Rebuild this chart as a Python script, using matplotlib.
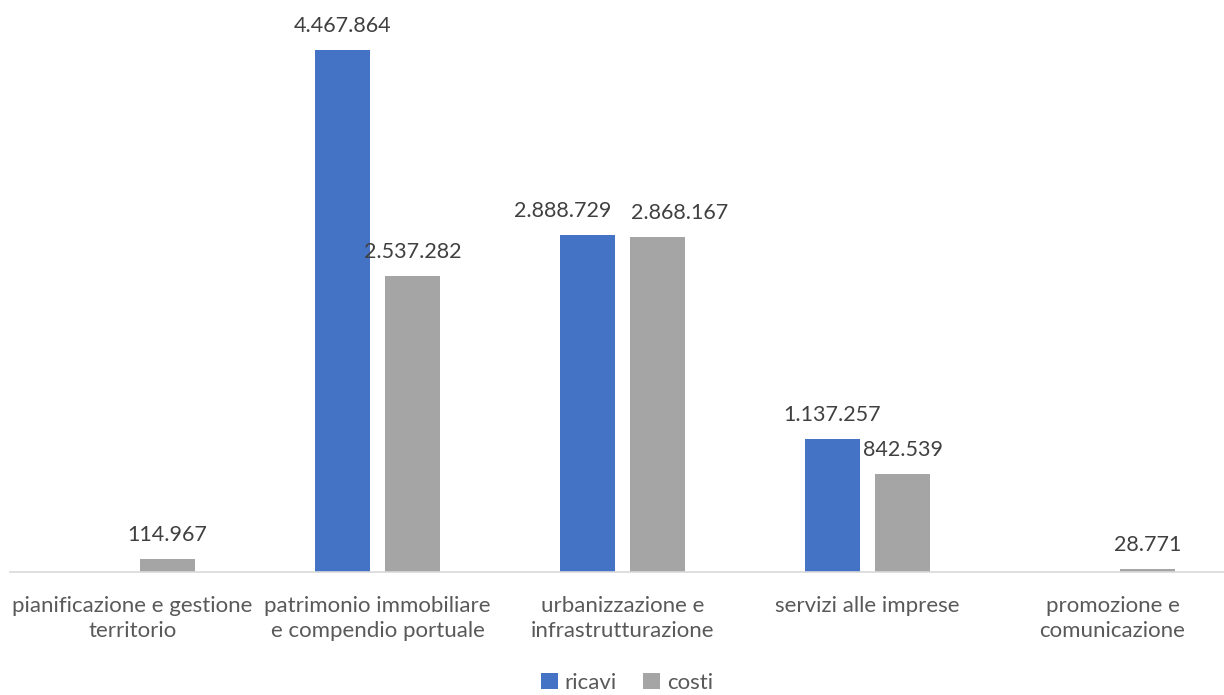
import numpy as np
from matplotlib import pyplot as plt

# data
categorie = ["pianificazione e gestione\nterritorio",
             "patrimonio immobiliare\ne compendio portuale",
             "urbanizzazione e\ninfrastrutturazione",
             "servizi alle imprese",
             "promozione e\ncomunicazione"]
ricavi = [np.nan, 4467864, 2888729, 1137257, np.nan]
costi = [114967, 2537282, 2868167, 842539, 28771]

plt.rcParams['font.family'] = ['Lato', 'DejaVu Sans']

def fmt(v):
    if np.isnan(v):
        return ""
    return "{:,.0f}".format(v).replace(",", ".")

fig = plt.figure(figsize=(12.24, 6.95), dpi=100)
ax = fig.add_axes([10/1224, 123/695, 1225/1224, 560.6/695])

x = np.arange(len(categorie))
w = 0.2245
off = 0.1429
b1 = ax.bar(x - off, ricavi, w, color="#4472C4", label="ricavi")
b2 = ax.bar(x + off, costi, w, color="#A5A5A5", label="costi")

lab1 = ax.bar_label(b1, labels=[fmt(v) for v in ricavi], padding=10, fontsize=15.5, color="#404040")
lab2 = ax.bar_label(b2, labels=[fmt(v) for v in costi], padding=10, fontsize=15.5, color="#404040")
# the two labels of "urbanizzazione" are pushed apart like in the original
lab1[2].xyann = (-18, 10)
lab2[2].xyann = (16, 10)

ax.set_xlim(-0.5, 4.5)
ax.set_ylim(0, 4.8e6)
ax.set_yticks([])
ax.set_xticks(x)
ax.set_xticklabels(categorie, fontsize=16, color="#595959", linespacing=1.35)
ax.tick_params(axis="x", length=0, pad=17)
for s in ["top", "right", "left"]:
    ax.spines[s].set_visible(False)
ax.spines["bottom"].set_color("#D9D9D9")
ax.spines["bottom"].set_linewidth(1.2)

fig.legend(loc="center", bbox_to_anchor=(627/1224, 1 - 683/695), ncol=2, frameon=False,
           fontsize=16, labelcolor="#595959", handlelength=0.75, handleheight=0.75,
           handletextpad=0.3, columnspacing=1.2)

plt.savefig("out.png")
plt.close()
